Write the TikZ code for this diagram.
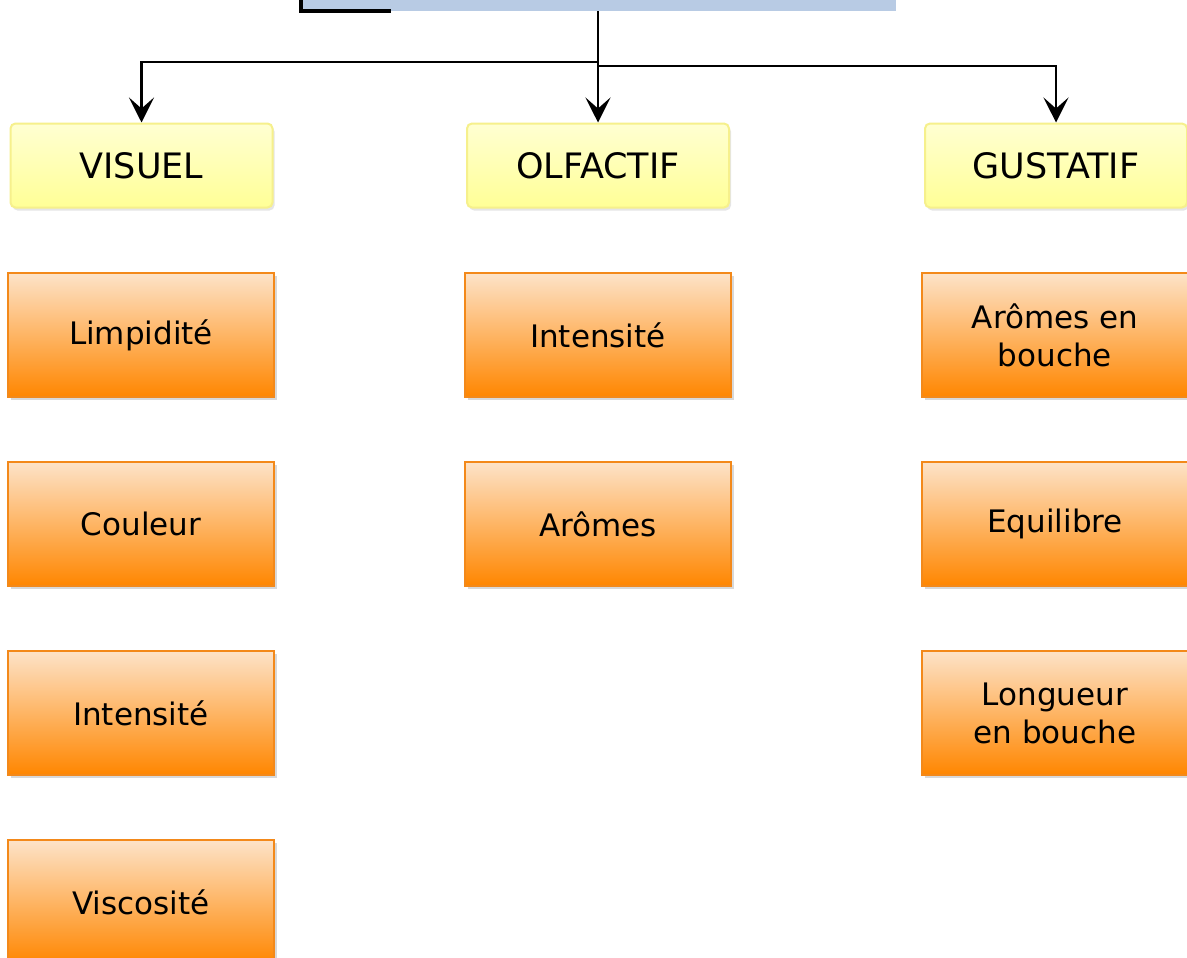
\documentclass[tikz,border=0pt]{standalone}
\usepackage{fontspec}
\setmainfont{DejaVu Sans}
\usetikzlibrary{arrows.meta,shadows}
\definecolor{topblue}{HTML}{B8CBE4}
\definecolor{orangetop}{HTML}{FDE3C8}
\definecolor{orangebot}{HTML}{FF8600}
\definecolor{orangeline}{HTML}{F3891A}
\definecolor{yellowtop}{HTML}{FFFFD2}
\definecolor{yellowbot}{HTML}{FFFF96}
\definecolor{yellowline}{HTML}{F6F08C}
\tikzset{
  item/.style={rectangle, draw=orangeline, line width=1.2pt,
    top color=orangetop, bottom color=orangebot,
    minimum width=266pt, minimum height=124pt, align=center,
    font=\fontsize{31}{38}\selectfont,
    drop shadow={shadow xshift=2.5pt, shadow yshift=-3pt, opacity=0.25, fill=black!60}},
  head/.style={rectangle, rounded corners=5pt, draw=yellowline, line width=2pt,
    top color=yellowtop, bottom color=yellowbot,
    minimum width=262pt, minimum height=84pt,
    font=\fontsize{35}{40}\selectfont,
    drop shadow={shadow xshift=2pt, shadow yshift=-3pt, opacity=0.2, fill=black!50}},
  conn/.style={draw=black, line width=2.2pt,
    -{Stealth[length=25pt, width=25pt, inset=11pt]}},
}
\begin{document}
\begin{tikzpicture}[x=1pt,y=-1pt]
\useasboundingbox (0,0) rectangle (1187,958);
\clip (0,0) rectangle (1187,958);
\fill[white] (0,0) rectangle (1187,958);

% top (cut off) box
\node[rectangle, fill=topblue, minimum width=596pt, minimum height=60pt, inner sep=0pt] (top) at (598,-19) {};
\draw[line width=3.5pt] (301,-2) |- (391,11);

% headers
\node[head] (vis) at (141.5,165.5) {VISUEL};
\node[head] (olf) at (598,165.5) {OLFACTIF};
\node[head] (gus) at (1056,165.5) {GUSTATIF};

% connectors
\draw[conn] (top.south) -- ++(0,51) -| (vis.north);
\draw[conn] (top.south) -- (olf.north);
\draw[conn] (top.south) -- ++(0,55) -| (gus.north);

% items
\node[item] (v1) at (141,335) {Limpidité};
\node[item] (v2) at (141,524) {Couleur};
\node[item] (v3) at (141,713) {Intensité};
\node[item] (v4) at (141,902) {Viscosité};

\node[item] (o1) at (598,335) {Intensité};
\node[item] (o2) at (598,524) {Arômes};

\node[item] (g1) at (1055,335) {Arômes en\\bouche};
\node[item] (g2) at (1055,524) {Equilibre};
\node[item] (g3) at (1055,713) {Longueur\\en bouche};
\end{tikzpicture}
\end{document}
